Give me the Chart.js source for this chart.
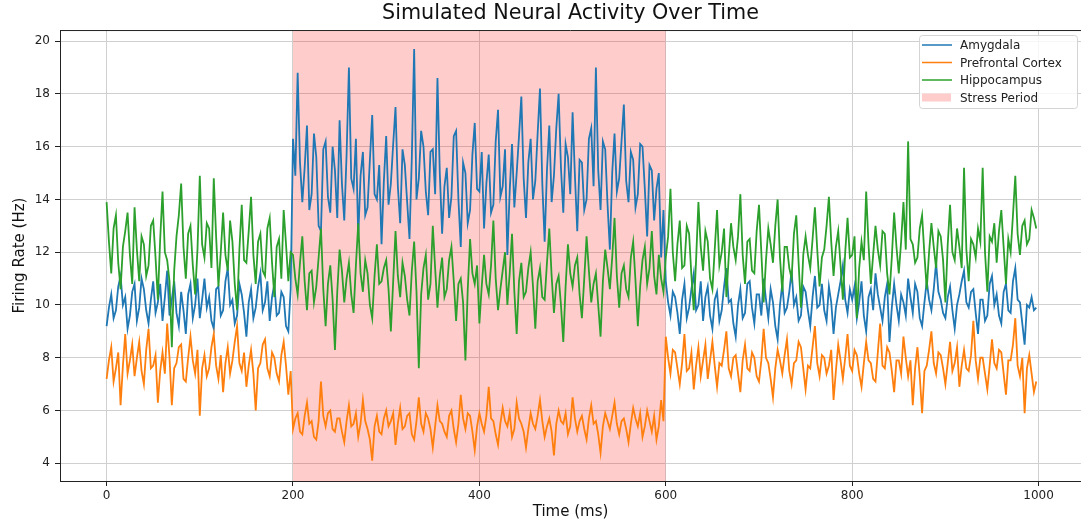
<!DOCTYPE html>
<html>
<head>
<meta charset="utf-8">
<title>Simulated Neural Activity Over Time</title>
<script src="https://cdn.jsdelivr.net/npm/chart.js@4.4.1/dist/chart.umd.min.js"></script>
<style>
  html, body { margin: 0; padding: 0; background: #fff; overflow: hidden; }
</style>
</head>
<body>
<canvas id="myLine" width="1081" height="524"></canvas>
<script>
// firing rates in Hz, one sample every 2.5 ms
var amygdala = [
  9.2, 9.9, 10.4, 9.5, 9.8, 10.7, 11.1, 10.0, 10.3, 9.1, 9.6, 10.5, 10.8, 9.4, 9.9, 11.0, 10.6, 9.8, 9.3, 10.2,
  10.9, 9.7, 10.1, 10.8, 9.4, 10.3, 11.3, 9.6, 10.2, 10.9, 9.7, 9.2, 10.5, 9.8, 8.9, 10.4, 10.8, 9.5, 10.0, 11.0,
  9.5, 10.2, 11.0, 9.9, 10.3, 9.4, 9.1, 10.6, 10.7, 9.6, 9.8, 10.9, 11.4, 10.0, 10.2, 9.3, 9.6, 10.8, 10.4, 9.7,
  8.8, 10.1, 10.6, 9.5, 9.9, 10.7, 11.2, 9.8, 10.1, 10.9, 9.4, 10.3, 10.8, 9.6, 9.7, 10.5, 10.3, 9.2, 9.0, 10.6,
  16.3, 14.9, 18.8, 15.4, 13.9, 15.2, 16.8, 13.6, 14.2, 16.5, 15.6, 13.0, 12.8, 15.9, 16.2, 14.1, 13.5, 16.0, 15.1, 13.3,
  17.0, 14.6, 13.2, 15.7, 19.0, 14.8, 14.4, 16.3, 12.6, 14.9, 15.8, 13.4, 13.7, 15.5, 17.2, 14.2, 14.0, 15.3, 12.3, 14.7,
  16.4, 13.8, 14.6, 16.1, 17.5, 14.5, 13.1, 15.9, 15.3, 13.9, 12.5, 15.6, 19.7, 14.0, 14.8, 16.6, 16.0, 14.3, 13.4, 15.8,
  15.9, 14.2, 18.6, 15.0, 12.7, 14.5, 15.2, 13.3, 14.1, 16.4, 16.6, 14.0, 12.2, 15.4, 15.0, 13.1, 13.6, 15.7, 16.9, 14.4,
  14.3, 15.8, 12.9, 14.6, 15.7, 13.5, 13.8, 16.2, 17.4, 14.1, 14.5, 15.9, 11.9, 14.3, 16.1, 13.7, 15.0, 16.4, 17.9, 14.8,
  13.3, 15.4, 16.3, 14.0, 14.7, 16.5, 18.2, 14.6, 12.4, 15.1, 16.8, 13.9, 14.9, 16.7, 18.0, 15.2, 13.5, 16.1, 15.6, 14.2,
  17.3, 14.9, 12.8, 15.5, 15.4, 13.6, 14.0, 16.3, 16.7, 14.5, 19.0, 15.1, 13.6, 16.2, 15.9, 13.8, 12.1, 15.0, 16.5, 14.3,
  14.8, 16.2, 17.6, 14.7, 13.9, 15.8, 15.5, 13.7, 14.2, 16.1, 16.0, 14.4, 12.6, 15.3, 15.1, 13.2, 14.4, 15.0, 11.8, 13.6,
  10.9, 10.1, 9.6, 10.5, 10.3, 9.7, 8.9, 10.2, 10.8, 9.5, 9.9, 10.6, 11.2, 9.8, 10.0, 10.9, 9.4, 10.3, 10.7, 9.6,
  9.1, 10.2, 10.5, 9.4, 9.8, 10.7, 11.4, 10.1, 10.2, 9.3, 8.8, 10.0, 10.6, 9.5, 9.7, 10.8, 10.9, 9.9, 9.3, 10.4,
  10.4, 9.6, 11.0, 10.2, 9.5, 10.6, 10.1, 9.2, 8.7, 10.0, 10.8, 9.7, 9.9, 10.5, 11.3, 10.0, 10.3, 9.4, 9.6, 10.7,
  10.5, 9.8, 9.2, 10.3, 11.1, 9.9, 10.0, 10.8, 9.8, 9.4, 10.7, 10.1, 8.9, 9.9, 10.4, 10.9, 11.5, 10.2, 9.7, 10.6,
  10.2, 10.7, 9.5, 10.1, 10.9, 9.6, 9.0, 10.3, 10.6, 9.8, 11.2, 10.4, 9.9, 9.4, 10.3, 10.8, 8.6, 9.9, 10.8, 10.0,
  9.4, 10.4, 10.1, 9.6, 11.0, 10.3, 9.7, 10.8, 10.5, 9.5, 9.2, 10.1, 10.9, 10.2, 9.8, 10.6, 11.6, 10.5, 10.2, 9.7,
  9.5, 10.3, 10.7, 9.8, 9.1, 10.0, 10.4, 10.9, 11.3, 10.1, 9.9, 10.5, 10.6, 9.7, 8.9, 10.2, 10.2, 9.4, 9.6, 10.8,
  11.1, 10.0, 10.4, 9.6, 9.3, 10.5, 10.8, 9.8, 9.7, 10.9, 11.4, 10.2, 10.1, 9.3, 8.5, 10.0, 9.9, 10.3, 9.8, 9.9
];
var prefrontal = [
  7.2, 7.9, 8.4, 7.1, 7.6, 8.2, 6.2, 7.7, 8.9, 7.4, 7.9, 8.5, 7.3, 8.0, 8.6, 7.5, 7.0, 8.3, 9.1, 7.6,
  7.7, 8.1, 6.3, 7.5, 8.2, 7.4, 9.3, 8.0, 6.2, 7.6, 7.8, 8.4, 8.5, 7.2, 7.1, 8.0, 8.8, 7.9, 7.4, 8.3,
  5.8, 7.6, 8.1, 7.3, 7.6, 8.4, 8.9, 7.7, 7.2, 8.1, 6.7, 7.8, 8.4, 7.4, 7.9, 8.6, 9.2, 7.8, 7.5, 8.2,
  6.9, 7.7, 8.3, 7.4, 6.0, 7.6, 7.8, 8.5, 8.7, 7.6, 7.3, 8.2, 8.0, 7.4, 7.1, 8.1, 8.6, 7.7, 6.6, 7.5,
  5.3, 5.7, 5.9, 5.2, 5.1, 5.8, 6.3, 5.5, 5.6, 5.0, 4.9, 5.6, 7.1, 5.8, 5.4, 5.9, 6.0, 5.3, 5.2, 5.7,
  5.7, 5.2, 4.8, 5.6, 6.2, 5.4, 5.5, 5.9, 5.0, 5.5, 6.4, 5.6, 5.3, 4.9, 4.1, 5.4, 5.8, 5.2, 5.1, 5.7,
  6.0, 5.4, 5.6, 5.9, 4.7, 5.5, 6.1, 5.3, 5.4, 5.8, 5.9, 5.1, 4.9, 5.6, 6.5, 5.5, 5.2, 5.9, 5.7, 5.3,
  4.6, 5.4, 6.2, 5.6, 5.5, 5.2, 5.0, 5.8, 6.0, 5.3, 4.8, 5.5, 6.6, 5.7, 5.3, 5.9, 5.8, 5.2, 4.5, 5.4,
  5.9, 5.5, 5.2, 5.8, 6.9, 5.7, 5.6, 5.1, 4.7, 5.5, 6.1, 5.6, 5.4, 5.9, 5.0, 5.3, 6.3, 5.7, 5.5, 5.2,
  4.6, 5.3, 5.9, 5.5, 5.3, 5.8, 6.4, 5.6, 5.0, 5.4, 5.7, 5.2, 4.3, 5.5, 6.0, 5.6, 5.5, 5.9, 5.1, 5.4,
  6.5, 5.7, 5.2, 5.6, 5.8, 5.3, 4.9, 5.7, 6.2, 5.5, 5.6, 5.1, 4.4, 5.4, 5.9, 5.6, 5.3, 5.8, 6.3, 5.5,
  5.1, 5.6, 5.7, 5.3, 4.8, 5.5, 6.1, 5.7, 5.4, 5.9, 5.0, 5.4, 6.0, 5.6, 5.2, 5.8, 4.9, 5.4, 6.4, 5.6,
  8.8, 8.0, 7.4, 8.3, 8.2, 7.6, 7.0, 7.8, 8.9, 7.5, 7.6, 8.2, 6.8, 7.7, 8.4, 7.3, 7.9, 8.5, 7.2, 7.9,
  8.6, 7.7, 6.9, 7.8, 7.7, 8.3, 9.0, 7.6, 7.3, 8.0, 8.1, 7.4, 6.7, 7.9, 8.5, 7.6, 7.5, 8.2, 8.0, 7.3,
  7.1, 7.9, 9.1, 8.0, 7.8, 7.2, 6.5, 7.6, 8.3, 7.9, 7.4, 8.1, 8.7, 7.5, 7.0, 7.8, 7.9, 8.6, 8.4, 7.6,
  6.8, 7.7, 7.6, 8.4, 9.2, 7.8, 7.3, 8.1, 8.0, 7.4, 7.7, 8.3, 6.4, 7.5, 8.5, 7.9, 7.2, 8.0, 8.9, 7.7,
  7.5, 8.3, 8.1, 7.4, 6.9, 7.8, 8.6, 7.9, 7.8, 7.2, 7.1, 8.2, 9.3, 7.7, 7.6, 8.4, 8.2, 7.5, 6.7, 7.9,
  7.9, 7.4, 8.8, 8.0, 7.3, 7.9, 6.2, 7.6, 8.4, 7.3, 5.9, 7.5, 7.7, 8.3, 9.0, 7.8, 7.4, 8.2, 8.1, 7.6,
  7.0, 7.8, 8.6, 7.5, 7.8, 8.4, 6.9, 7.7, 8.3, 7.6, 7.5, 8.1, 9.4, 7.9, 7.2, 8.0, 8.0, 7.4, 6.8, 7.7,
  8.7, 7.8, 7.6, 8.3, 8.2, 7.4, 6.6, 7.9, 7.9, 8.5, 9.5, 7.7, 7.3, 8.0, 5.9, 7.6, 8.1, 7.4, 6.7, 7.1
];
var hippocampus = [
  13.9, 12.4, 11.2, 12.9, 13.4, 11.6, 10.6, 12.2, 12.8, 13.5, 11.9, 10.8, 13.7, 12.1, 10.9, 12.6, 12.3, 11.1, 11.5, 13.0,
  13.2, 11.8, 10.2, 12.5, 14.3, 12.0, 11.7, 10.9, 8.4, 11.3, 12.6, 13.4, 14.6, 12.2, 11.0, 12.7, 13.0, 11.5, 10.4, 12.1,
  14.9, 12.3, 11.8, 13.1, 12.9, 11.4, 14.8, 12.6, 10.7, 12.0, 13.5, 11.9, 11.3, 13.2, 12.4, 10.8, 9.8, 12.1, 13.8, 11.7,
  11.6, 12.8, 14.1, 11.9, 10.8, 12.4, 12.7, 11.3, 11.1, 12.9, 13.3, 11.6, 10.3, 12.2, 12.5, 11.0, 13.6, 12.3, 10.9, 12.0,
  11.9, 11.0, 10.4, 11.6, 12.6, 10.9, 9.8, 11.2, 11.3, 10.1, 10.7, 11.8, 12.9, 10.6, 9.2, 10.8, 11.5, 10.2, 8.3, 10.5,
  12.1, 11.3, 10.1, 11.0, 11.6, 10.4, 9.7, 11.5, 13.1, 11.2, 10.5, 11.7, 11.2, 10.0, 9.5, 11.1, 12.3, 10.8, 10.9, 11.4,
  11.7, 10.6, 9.0, 10.9, 12.8, 11.1, 10.3, 11.6, 11.1, 10.2, 9.6, 11.3, 12.4, 10.5, 7.6, 10.4, 11.4, 11.9, 10.2, 10.8,
  13.0, 11.4, 9.9, 11.1, 11.8, 10.3, 10.6, 11.7, 12.2, 10.9, 9.4, 10.8, 11.0, 10.1, 7.9, 10.6, 12.5, 11.2, 10.8, 11.5,
  9.3, 10.7, 11.9, 10.8, 10.4, 11.5, 13.2, 11.0, 9.8, 10.6, 11.3, 12.0, 10.0, 11.2, 12.7, 10.5, 8.9, 10.9, 11.6, 10.3,
  10.5, 11.4, 12.0, 10.7, 9.1, 10.9, 11.4, 10.3, 10.2, 11.6, 12.9, 11.1, 9.7, 10.8, 11.1, 10.0, 8.6, 10.7, 12.3, 11.2,
  10.7, 11.5, 11.8, 10.4, 9.5, 11.0, 12.6, 11.3, 10.1, 10.8, 11.2, 10.0, 8.8, 10.9, 12.1, 11.4, 10.6, 11.8, 13.3, 11.1,
  9.9, 11.2, 11.5, 10.6, 10.3, 11.8, 12.4, 10.9, 9.2, 10.7, 11.7, 12.2, 10.8, 11.4, 12.8, 11.1, 10.4, 11.9, 11.0, 10.5,
  11.8, 12.6, 14.4, 12.0, 10.9, 12.3, 13.2, 11.4, 11.5, 13.0, 12.7, 11.1, 9.8, 11.7, 13.9, 12.2, 11.3, 12.8, 12.4, 11.0,
  10.6, 12.1, 13.6, 11.5, 12.0, 12.9, 10.3, 11.8, 13.1, 12.2, 11.7, 12.6, 14.2, 11.9, 10.8, 12.4, 12.5, 11.3, 11.2, 12.8,
  13.8, 12.0, 10.1, 11.7, 12.9, 12.3, 11.6, 13.0, 14.0, 11.8, 10.5, 12.2, 12.2, 11.4, 11.0, 12.7, 13.4, 11.6, 9.9, 11.9,
  12.6, 11.9, 11.4, 12.5, 13.7, 12.1, 10.7, 11.8, 12.1, 13.0, 14.1, 12.4, 11.1, 12.2, 12.8, 11.5, 10.2, 12.0, 13.3, 11.8,
  11.9, 12.6, 9.5, 11.4, 12.4, 11.7, 14.3, 12.3, 10.8, 11.9, 13.0, 12.1, 11.5, 12.8, 12.7, 11.2, 10.4, 11.8, 13.5, 12.2,
  11.2, 12.4, 13.9, 12.1, 16.2, 12.5, 12.3, 11.6, 11.8, 12.9, 13.4, 11.9, 10.6, 12.0, 13.1, 12.2, 11.4, 12.8, 12.6, 11.7,
  10.1, 12.3, 13.8, 12.0, 11.7, 12.9, 12.2, 11.4, 15.2, 12.1, 10.9, 12.5, 12.3, 11.8, 12.9, 12.4, 15.2, 12.0, 10.5, 12.6,
  12.4, 13.1, 11.6, 12.8, 13.6, 12.2, 10.8, 12.5, 12.0, 13.4, 14.9, 12.7, 11.9, 13.0, 13.2, 12.3, 12.5, 13.6, 13.3, 12.9
];
var time = amygdala.map(function (v, i) { return i * 2.5; });

var stressStart = 200, stressEnd = 600;
var xTicks = [0, 200, 400, 600, 800, 1000];
var yTicks = [4, 6, 8, 10, 12, 14, 16, 18, 20];
var yMin = 3.33, yMax = 20.42;

function points(arr) {
  return arr.map(function (v, i) { return { x: time[i], y: v }; });
}

var FONT = "'DejaVu Sans', 'Liberation Sans', sans-serif";
var colors = { amy: '#1f77b4', pfc: '#ff7f0e', hip: '#2ca02c', stress: 'rgba(255,0,0,0.2)' };

// matplotlib style legend box + top spine
var frame = {
  id: 'frame',
  afterDraw: function (chart) {
    var c = chart.ctx, a = chart.chartArea;
    c.save();
    c.strokeStyle = '#222';
    c.lineWidth = 1;
    c.beginPath();
    c.moveTo(a.left, a.top + 0.5);
    c.lineTo(a.right, a.top + 0.5);
    c.stroke();

    var bx = 919, by = 35, bw = 158, bh = 73;
    c.fillStyle = 'rgba(255,255,255,0.8)';
    c.strokeStyle = '#d4d4d4';
    c.beginPath();
    c.roundRect(bx + 0.5, by + 0.5, bw, bh, 3);
    c.fill();
    c.stroke();

    var items = [
      { label: 'Amygdala', color: colors.amy },
      { label: 'Prefrontal Cortex', color: colors.pfc },
      { label: 'Hippocampus', color: colors.hip },
      { label: 'Stress Period', color: colors.stress, patch: true }
    ];
    c.font = '12px ' + FONT;
    c.textBaseline = 'middle';
    items.forEach(function (it, i) {
      var y = 45 + i * 17.5;
      if (it.patch) {
        c.fillStyle = it.color;
        c.fillRect(922, y - 4, 29, 8);
      } else {
        c.strokeStyle = it.color;
        c.lineWidth = 1.5;
        c.beginPath();
        c.moveTo(922, y);
        c.lineTo(952, y);
        c.stroke();
      }
      c.fillStyle = '#222';
      c.fillText(it.label, 960, y + 1);
    });
    c.restore();
  }
};

var ctx = document.getElementById('myLine');
var lineChart = new Chart(ctx, {
  type: 'line',
  data: {
    datasets: [
      {
        label: 'Amygdala',
        data: points(amygdala),
        borderColor: colors.amy,
        borderWidth: 1.8,
        pointRadius: 0,
        fill: false,
        order: 3
      },
      {
        label: 'Prefrontal Cortex',
        data: points(prefrontal),
        borderColor: colors.pfc,
        borderWidth: 1.8,
        pointRadius: 0,
        fill: false,
        order: 2
      },
      {
        label: 'Hippocampus',
        data: points(hippocampus),
        borderColor: colors.hip,
        borderWidth: 1.8,
        pointRadius: 0,
        fill: false,
        order: 1
      },
      {
        label: 'Stress Period',
        data: [{ x: stressStart, y: yMax }, { x: stressEnd, y: yMax }],
        borderWidth: 0,
        borderColor: 'rgba(0,0,0,0)',
        backgroundColor: colors.stress,
        pointRadius: 0,
        fill: 'start',
        order: 4
      }
    ]
  },
  options: {
    responsive: false,
    animation: false,
    layout: { padding: { left: 11, right: 0, top: 0, bottom: 0 } },
    plugins: {
      legend: { display: false },
      tooltip: { enabled: false },
      title: {
        display: true,
        fullSize: false,
        text: 'Simulated Neural Activity Over Time',
        color: '#111',
        font: { family: FONT, size: 20.7, weight: 'normal' },
        padding: { top: 1, bottom: 4.2 }
      }
    },
    scales: {
      x: {
        type: 'linear',
        min: -50,
        max: 1045.5,
        afterFit: function (s) { s.height = 43; },
        afterBuildTicks: function (s) { s.ticks = xTicks.map(function (v) { return { value: v }; }); },
        grid: { color: '#d0d0d0', tickColor: '#222', tickLength: 5, lineWidth: 1 },
        border: { color: '#222', width: 1 },
        ticks: {
          color: '#222', padding: 3, maxRotation: 0, font: { family: FONT, size: 12 },
          callback: function (v) { return String(v); }
        },
        title: { display: true, text: 'Time (ms)', color: '#111', padding: 3, font: { family: FONT, size: 15 } }
      },
      y: {
        min: yMin,
        max: yMax,
        afterFit: function (s) { s.width = 49; },
        afterBuildTicks: function (s) { s.ticks = yTicks.map(function (v) { return { value: v }; }); },
        grid: { color: '#d0d0d0', tickColor: '#222', tickLength: 5, lineWidth: 1 },
        border: { color: '#222', width: 1 },
        ticks: { color: '#222', padding: 5, font: { family: FONT, size: 12 } },
        title: { display: true, text: 'Firing Rate (Hz)', color: '#111', padding: 0, font: { family: FONT, size: 15 } }
      }
    }
  },
  plugins: [frame]
});
</script>
</body>
</html>
